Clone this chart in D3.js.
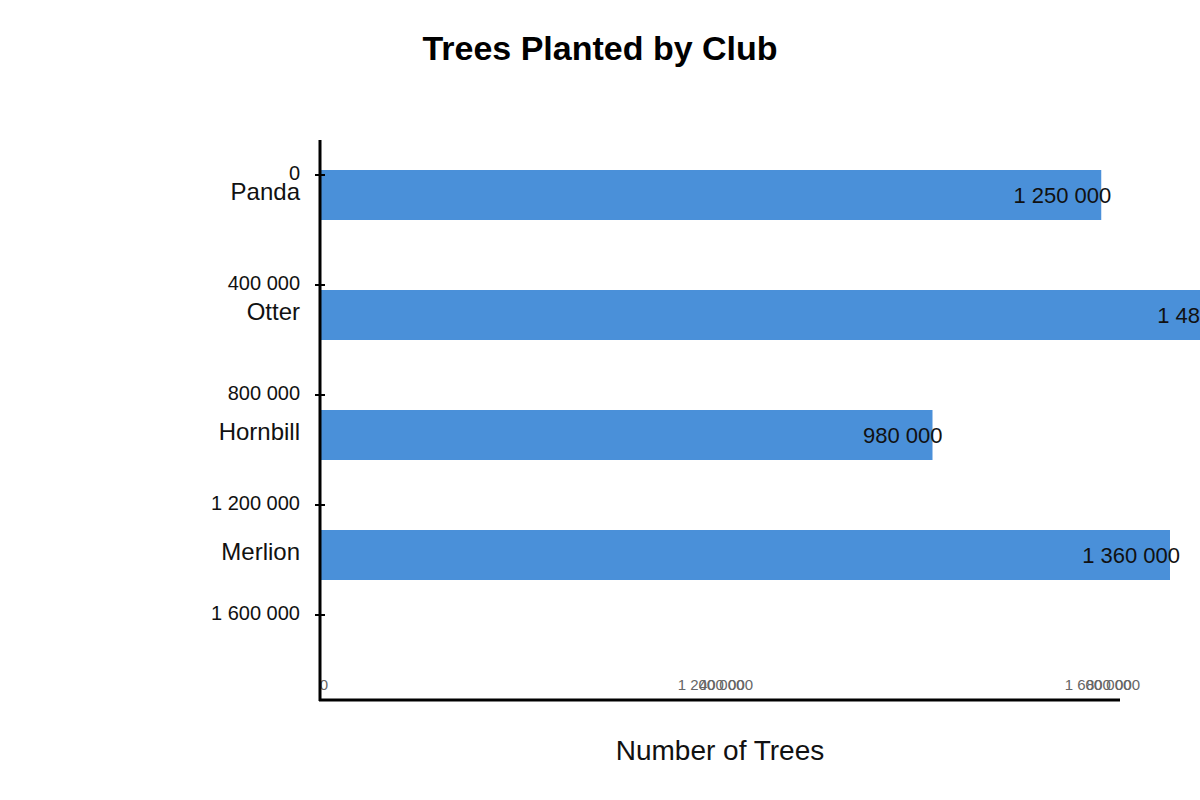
<!DOCTYPE html>
<html>
<head>
<meta charset="utf-8">
<script src="https://cdn.jsdelivr.net/npm/d3@7"></script>
<style>
  html, body { margin: 0; padding: 0; background: #fff; }
  svg { display: block; font-family: "Liberation Sans", Arial, sans-serif; }
</style>
</head>
<body>
<svg id="chart" width="1200" height="800"></svg>
<script>
const clubs = ["Panda", "Otter", "Hornbill", "Merlion"];
const trees = [1250000, 1480000, 980000, 1360000];
const yTickValues = [0, 400000, 800000, 1200000, 1600000];
const xTickSetA = ["0", "1 200 000", "1 600 000"];
const xTickSetB = ["400 000", "800 000"];

const fmt = v => d3.format(",")(v).replace(/,/g, " ");

const svg = d3.select("#chart");

// scales
const band = d3.scaleBand().domain(clubs).range([135, 615])
  .paddingInner(7 / 12).paddingOuter(7 / 24);
const x = d3.scaleLinear().domain([0, 1600000]).range([320, 1320]);
const yVal = d3.scaleLinear().domain([0, 1600000]).range([175, 615]);
const xSlot = d3.scalePoint().domain([0, 1, 2]).range([324, 1098]);

// title
svg.append("text").attr("x", 600).attr("y", 60)
  .attr("text-anchor", "middle").attr("font-size", 34).attr("font-weight", "bold")
  .attr("fill", "#000").text("Trees Planted by Club");

// bars
svg.selectAll("rect.bar").data(clubs).join("rect")
  .attr("class", "bar")
  .attr("x", x(0))
  .attr("y", d => band(d))
  .attr("width", (d, i) => x(trees[i]) - x(0))
  .attr("height", band.bandwidth())
  .attr("fill", "#4a90d9");

// value labels
svg.selectAll("text.val").data(clubs).join("text")
  .attr("class", "val")
  .attr("x", (d, i) => x(trees[i]) + 10)
  .attr("y", d => band(d) + band.bandwidth() / 2)
  .attr("dy", "0.35em")
  .attr("text-anchor", "end").attr("font-size", 22).attr("fill", "#111")
  .text((d, i) => fmt(trees[i]));

// category labels
svg.selectAll("text.cat").data(clubs).join("text")
  .attr("class", "cat")
  .attr("x", 300)
  .attr("y", d => band(d) + band.bandwidth() / 2 - 3)
  .attr("dy", "0.35em")
  .attr("text-anchor", "end").attr("font-size", 24).attr("fill", "#111")
  .text(d => d);

// value ticks on left axis
const yt = svg.append("g");
yt.selectAll("line").data(yTickValues).join("line")
  .attr("x1", 315).attr("x2", 325)
  .attr("y1", d => yVal(d)).attr("y2", d => yVal(d))
  .attr("stroke", "#000").attr("stroke-width", 2);
yt.selectAll("text").data(yTickValues).join("text")
  .attr("x", 300).attr("y", d => yVal(d) - 2)
  .attr("dy", "0.35em").attr("text-anchor", "end")
  .attr("font-size", 20).attr("fill", "#111")
  .text(d => fmt(d));

// x tick labels (overlapping)
const xt = svg.append("g").attr("font-size", 15).attr("fill", "#666").attr("text-anchor", "middle");
xt.selectAll("text.a").data(xTickSetA).join("text")
  .attr("class", "a")
  .attr("x", (d, i) => xSlot(i)).attr("y", 690)
  .text(d => d);
xt.selectAll("text.b").data(xTickSetB).join("text")
  .attr("class", "b")
  .attr("x", (d, i) => xSlot(i + 1) + 15).attr("y", 690)
  .text(d => d);

// axes lines
svg.append("line").attr("x1", 320).attr("x2", 320).attr("y1", 140).attr("y2", 701)
  .attr("stroke", "#000").attr("stroke-width", 3);
svg.append("line").attr("x1", 319).attr("x2", 1120).attr("y1", 700).attr("y2", 700)
  .attr("stroke", "#000").attr("stroke-width", 3);

// x axis title
svg.append("text").attr("x", 720).attr("y", 760)
  .attr("text-anchor", "middle").attr("font-size", 28).attr("fill", "#111")
  .text("Number of Trees");
</script>
</body>
</html>
